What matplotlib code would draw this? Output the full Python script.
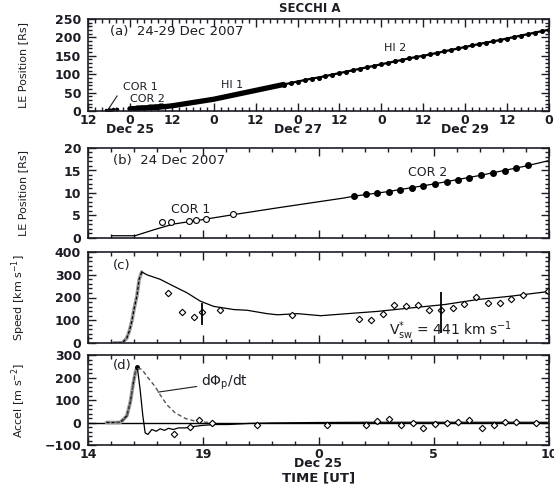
import numpy as np
import matplotlib
matplotlib.use("Agg")
import matplotlib.pyplot as plt
from matplotlib.ticker import FixedLocator, MultipleLocator
from matplotlib.font_manager import FontProperties

plt.rcParams['font.family'] = ['DejaVu Sans']
plt.rcParams['mathtext.default'] = 'regular'

# ---- (a) leading-edge position, 24-29 Dec 2007 (hours since 24 Dec 00:00 UT) ----
cor1_t = [17.2, 17.6, 18.4, 18.7, 19.1, 20.3]
cor1_r = [3.5, 3.6, 3.8, 4.0, 4.3, 5.3]
cor2_t = [25.55, 26.06, 26.53, 27.04, 27.55, 28.04, 28.55, 29.06,
          29.57, 30.07, 30.55, 31.06, 31.57, 32.07, 32.58, 33.09]
cor2_r = [9.3, 9.7, 9.9, 10.3, 10.6, 11.2, 11.5, 12.1,
          12.4, 12.8, 13.4, 13.9, 14.5, 14.9, 15.5, 16.2]
hi1_t = [24, 26, 28, 30, 32, 34, 36, 38, 40, 42, 44, 46,
         48, 50, 52, 54, 56, 58, 60, 62, 64, 66, 68]
hi1_r = [6, 7, 8, 9, 10, 12, 14, 17, 20, 23, 26, 29,
         32, 36, 40, 44, 48, 52, 56, 60, 64, 68, 72]
hi2_t = [68, 70, 72, 74, 76, 78, 80, 82, 84, 86, 88, 90, 92, 94, 96, 98,
         100, 102, 104, 106, 108, 110, 112, 114, 116, 118, 120, 122, 124,
         126, 128, 130, 132, 134, 136, 138, 140, 142, 144]
hi2_r = [72, 76, 80, 84, 88, 91, 95, 99, 103, 107, 111, 115, 119, 123, 127, 131,
         135, 139, 143, 147, 150, 154, 158, 162, 166, 170, 174, 178, 182,
         186, 189, 193, 197, 201, 205, 209, 213, 217, 221]
a_ticks = [12, 24, 36, 48, 60, 72, 84, 96, 108, 120, 132, 144]
a_ticklabels = ["12", "0\nDec 25", "12", "0", "12", "0\nDec 27", "12", "0",
                "12", "0\nDec 29", "12", "0"]

# ---- (b) 24 Dec 2007 close-up: kinematic model track ----
model_t = [15.04, 16.04, 16.84, 17.71, 18.87, 20.32, 22.22, 23.67, 25.12,
           25.55, 27.0, 29.0, 31.0, 33.0, 34.0]
model_r = [0.5, 0.5, 1.8, 3.1, 4.0, 5.2, 6.7, 7.8, 8.9,
           9.3, 10.3, 12.0, 13.9, 16.0, 17.2]

# ---- (c) speed ----
spd_t = [15.1, 15.5, 15.68, 15.8, 15.9, 16.0, 16.12, 16.22, 16.33, 16.45,
         16.55, 17.13, 17.71, 18.29, 18.87, 19.45, 20.32, 20.9, 21.77, 22.22,
         23.09, 24.1, 25.12, 26.57, 28.0, 29.47, 30.9, 32.36, 33.8, 34.0]
spd_v = [0, 2, 21, 55, 95, 150, 206, 280, 312, 306,
         300, 280, 250, 221, 184, 161, 147, 144, 129, 124,
         129, 120, 128, 139, 154, 169, 191, 206, 224, 226]
spd_obs_t = [17.49, 18.07, 18.58, 18.94, 19.74, 22.87, 25.77, 26.27, 26.78,
             27.29, 27.8, 28.3, 28.81, 29.32, 29.83, 30.33, 30.84, 31.35,
             31.86, 32.36, 32.87, 33.95]
spd_obs_v = [218, 135, 114, 135, 147, 124, 107, 102, 129,
             169, 161, 169, 144, 147, 154, 173, 203, 176,
             176, 194, 213, 228]
bar_t = [18.94, 29.32]
bar_lo = [80, 45]
bar_hi = [178, 222]
v_sw = 441

# ---- (d) acceleration and flux-injection rate ----
acc_t = [14.8, 15.39, 15.68, 15.83, 15.97, 16.07, 16.14, 16.26, 16.38, 16.48,
         16.6, 16.77, 16.96, 17.13, 17.32, 17.49, 17.71, 17.93, 18.22, 18.51,
         18.94, 19.52, 20.09, 21.0, 22.0, 24.0, 26.0, 28.0, 30.0, 32.0, 34.0]
acc_a = [0, 0, 29, 88, 178, 230, 245, 147, 29, -46,
         -53, -31, -39, -28, -35, -26, -31, -24, -24, -19,
         -13, -9, -9, -4, -2, 0, 1, 1, 1, 1, 1]
dphi_t = [15.2, 15.5, 15.7, 15.85, 15.97, 16.07, 16.17, 16.33, 16.62, 16.91,
          17.13, 17.42, 17.78, 18.22, 18.65, 19.23, 19.6]
dphi_v = [0, 5, 30, 95, 178, 225, 240, 237, 197, 160,
          123, 79, 43, 18, 6, 0, 0]
acc_obs_t = [17.71, 18.43, 18.8, 19.38, 21.33, 24.39, 26.06, 26.53, 27.07,
             27.58, 28.09, 28.55, 29.06, 29.57, 30.07, 30.55, 31.09, 31.6,
             32.07, 32.58, 33.45]
acc_obs_a = [-50, -19, 9, 0, -9, -12, -13, 6, 17,
             -13, -4, -24, -6, -1, 3, 9, -24, -9,
             3, 3, -4]
bd_ticks = [14, 19, 24, 29, 34]
bd_ticklabels = ["14", "19", "0\nDec 25", "5", "10"]

INK = "#1c1c24"
TICKFONT = FontProperties(family="DejaVu Sans", weight="bold", size=9)
LABFONT = dict(family="DejaVu Sans", size=8)

fig = plt.figure(figsize=(5.54, 4.86), dpi=100)
W, H = 554.0, 486.0


def make_axes(top, bottom):
    return fig.add_axes([88 / W, 1 - bottom / H, 461 / W, (bottom - top) / H])


def style(ax, ylabel):
    for sp in ax.spines.values():
        sp.set_linewidth(1.2)
        sp.set_color(INK)
    ax.tick_params(which="both", direction="in", top=True, right=True,
                   colors=INK, width=1.0)
    ax.tick_params(which="major", length=6)
    ax.tick_params(which="minor", length=3)
    ax.tick_params(axis="y", which="major", pad=5)
    ax.tick_params(axis="x", which="major", pad=2)
    for lab in ax.get_yticklabels() + ax.get_xticklabels():
        lab.set_fontproperties(TICKFONT)
        lab.set_linespacing(0.6)
    ax.set_ylabel(ylabel, fontdict=LABFONT, color=INK)
    ax.yaxis.set_label_coords(-0.13, 0.5)


# ---------------- panel (a) ----------------
axa = make_axes(19, 111)
axa.set_xlim(12, 144)
axa.set_ylim(0, 250)
axa.xaxis.set_major_locator(FixedLocator(a_ticks))
axa.xaxis.set_minor_locator(MultipleLocator(2))
axa.set_xticklabels(a_ticklabels)
axa.yaxis.set_major_locator(MultipleLocator(50))
axa.yaxis.set_minor_locator(MultipleLocator(10))
axa.plot(cor1_t, cor1_r, color="black", lw=1.0, marker="o", ms=1.5)
axa.plot(cor2_t, cor2_r, color="black", lw=1.5, marker="o", ms=2)
axa.plot(hi1_t, hi1_r, color="black", lw=3.8, solid_capstyle="round")
axa.plot(hi2_t, hi2_r, color="black", lw=1.6, marker="o", ms=2.6)
axa.text(0.048, 0.86, "(a)  24-29 Dec 2007", transform=axa.transAxes,
         fontsize=9.5, color=INK, va="center", ha="left")
axa.text(0.313, 0.283, "HI 1", transform=axa.transAxes, fontsize=8,
         color=INK, ha="center", va="center")
axa.text(0.667, 0.685, "HI 2", transform=axa.transAxes, fontsize=8,
         color=INK, ha="center", va="center")
axa.text(0.113, 0.26, "COR 1", transform=axa.transAxes, fontsize=8,
         color=INK, ha="center", va="center")
axa.text(0.13, 0.13, "COR 2", transform=axa.transAxes, fontsize=8,
         color=INK, ha="center", va="center")
axa.plot([0.063, 0.043], [0.163, 0.011], transform=axa.transAxes,
         color=INK, lw=0.8)
style(axa, "LE Position [Rs]")
fig.text(310 / W, 1 - 9 / H, "SECCHI A", fontsize=8.5, color=INK,
         ha="center", va="center", weight="bold")

# ---------------- panels (b)-(d) share the time axis ----------------
def time_axis(ax, labels):
    ax.set_xlim(14, 34)
    ax.xaxis.set_major_locator(FixedLocator(bd_ticks))
    ax.xaxis.set_minor_locator(MultipleLocator(1))
    if labels:
        ax.set_xticklabels(bd_ticklabels)
    else:
        ax.set_xticklabels([])


axb = make_axes(148, 238)
time_axis(axb, False)
axb.set_ylim(0, 20)
axb.yaxis.set_major_locator(MultipleLocator(5))
axb.yaxis.set_minor_locator(MultipleLocator(1))
axb.plot(model_t, model_r, color="black", lw=0.9)
axb.plot(cor1_t, cor1_r, ls="none", marker="o", ms=4.2, mfc="white",
         mec="black", mew=0.8)
axb.plot(cor2_t, cor2_r, ls="none", marker="o", ms=4.0, color="black")
axb.text(0.054, 0.856, "(b)  24 Dec 2007", transform=axb.transAxes,
         fontsize=9.5, color=INK, va="center", ha="left")
axb.text(0.222, 0.32, "COR 1", transform=axb.transAxes, fontsize=9,
         color=INK, ha="center", va="center")
axb.text(0.737, 0.733, "COR 2", transform=axb.transAxes, fontsize=9,
         color=INK, ha="center", va="center")
style(axb, "LE Position [Rs]")

axc = make_axes(252, 343)
time_axis(axc, False)
axc.set_ylim(0, 400)
axc.yaxis.set_major_locator(MultipleLocator(100))
axc.yaxis.set_minor_locator(MultipleLocator(20))
ipk = int(np.argmax(spd_v))
axc.plot(spd_t[:ipk + 1], spd_v[:ipk + 1], color="#9a9a9a", lw=2.6,
         solid_capstyle="round")
axc.plot(spd_t[:ipk + 1], spd_v[:ipk + 1], color="black", lw=0.9,
         dashes=(2.5, 1.5))
axc.plot(spd_t[ipk:], spd_v[ipk:], color="black", lw=0.9)
axc.plot(spd_obs_t, spd_obs_v, ls="none", marker="D", ms=3.3, mfc="white",
         mec="black", mew=0.8)
axc.vlines(bar_t, bar_lo, bar_hi, color="black", lw=1.3)
axc.text(0.652, 0.14, r"V$^{*}_{sw}$ = %d km s$^{-1}$" % v_sw,
         transform=axc.transAxes, fontsize=10, color=INK,
         ha="left", va="center")
axc.text(0.054, 0.857, "(c)", transform=axc.transAxes, fontsize=9.5,
         color=INK, va="center", ha="left")
style(axc, r"Speed [km s$^{-1}$]")

axd = make_axes(355, 445)
time_axis(axd, True)
axd.set_ylim(-100, 300)
axd.yaxis.set_major_locator(MultipleLocator(100))
axd.yaxis.set_minor_locator(MultipleLocator(20))
axd.axhline(0, color="black", lw=1.0)
ipa = int(np.argmax(acc_a))
axd.plot(acc_t[:ipa + 1], acc_a[:ipa + 1], color="#9a9a9a", lw=2.6,
         solid_capstyle="round")
axd.plot(acc_t[:ipa + 1], acc_a[:ipa + 1], color="black", lw=0.9,
         dashes=(2.5, 1.5))
axd.plot(acc_t[ipa:], acc_a[ipa:], color="black", lw=0.9)
axd.plot(acc_t[ipa], acc_a[ipa], marker="o", ms=2.5, color="black")
axd.plot(dphi_t, dphi_v, color="#555555", lw=1.0, dashes=(3, 2))
axd.plot(acc_obs_t, acc_obs_a, ls="none", marker="D", ms=3.3, mfc="white",
         mec="black", mew=0.8)
axd.annotate(r"d$\Phi_p$/dt", xy=(17.04, 135), xytext=(18.9, 178),
             fontsize=10, color=INK, va="center", ha="left",
             arrowprops=dict(arrowstyle="-", color=INK, lw=0.8,
                             shrinkA=1, shrinkB=0))
axd.text(0.054, 0.878, "(d)", transform=axd.transAxes, fontsize=9.5,
         color=INK, va="center", ha="left")
style(axd, r"Accel [m s$^{-2}$]")
axd.set_xlabel("TIME [UT]", fontdict=dict(family="DejaVu Sans", size=9.5,
                                          weight="bold"), color=INK, labelpad=1)

fig.savefig("out.png", dpi=100)
